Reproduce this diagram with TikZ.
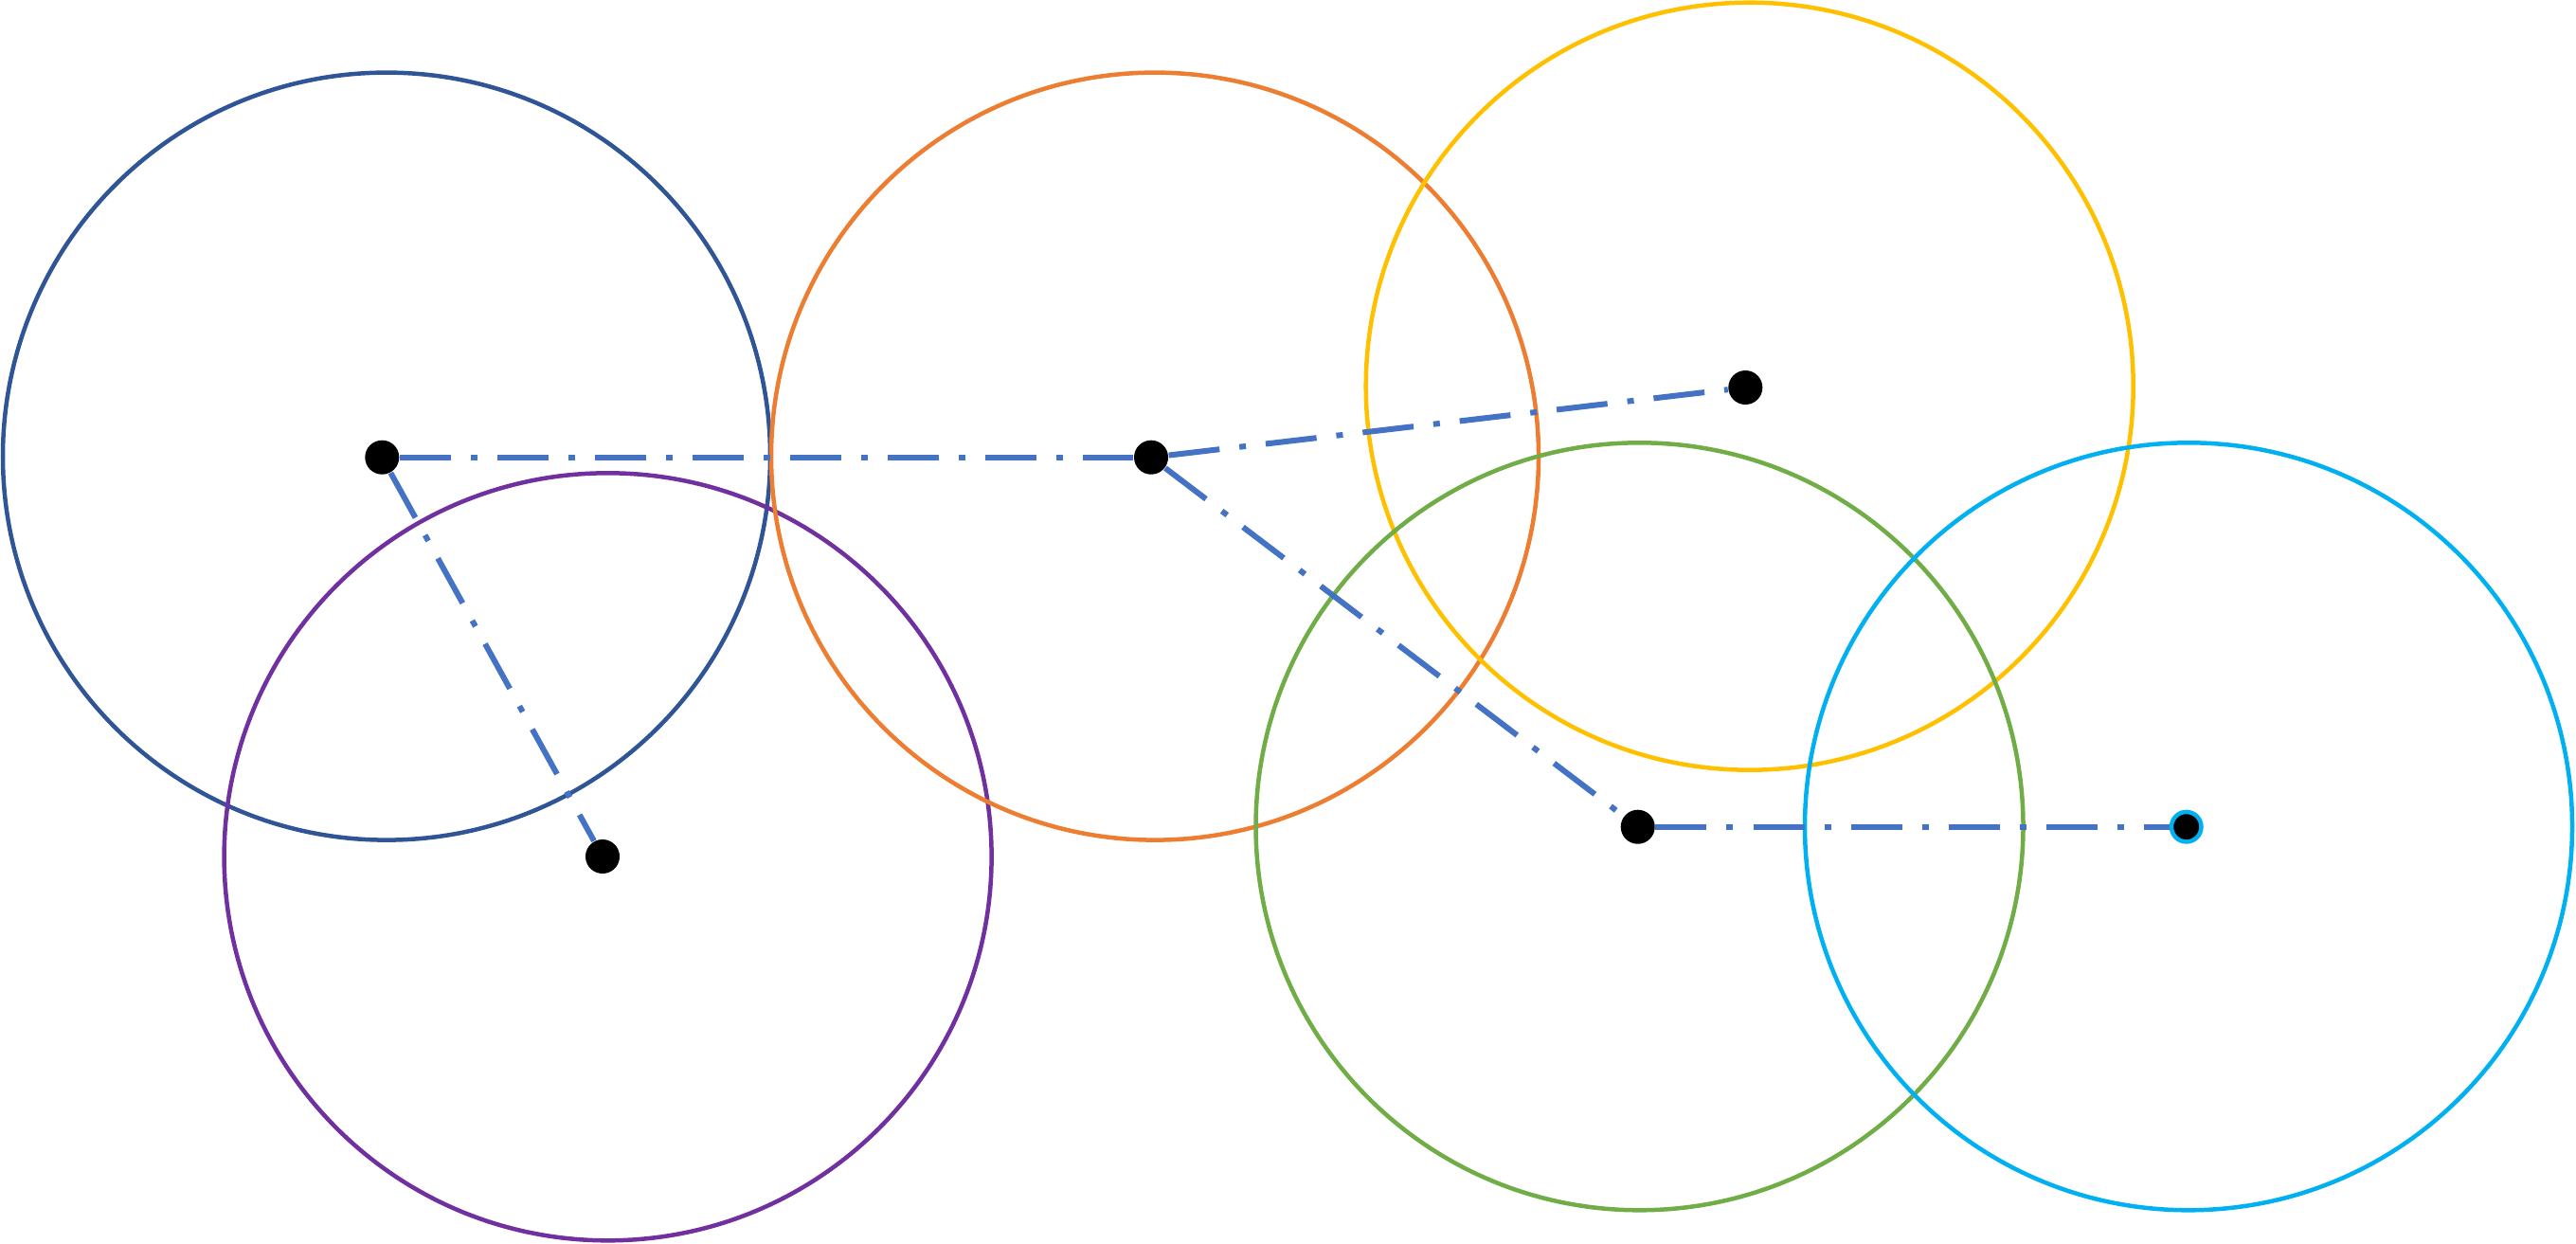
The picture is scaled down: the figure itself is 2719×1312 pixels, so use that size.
\documentclass[tikz,border=0pt]{standalone}
\definecolor{cBlue}{HTML}{2F5597}
\definecolor{cPurple}{HTML}{7030A0}
\definecolor{cOrange}{HTML}{ED7D31}
\definecolor{cYellow}{HTML}{FFC000}
\definecolor{cGreen}{HTML}{70AD47}
\definecolor{cCyan}{HTML}{00B0F0}
\definecolor{cLink}{HTML}{4472C4}
\begin{document}
\begin{tikzpicture}[x=0.01cm,y=-0.01cm,
  coverage/.style={line width=0.045cm},
  sensor/.style={circle,fill=black,inner sep=0pt,minimum size=0.36cm},
  link/.style={cLink,line width=0.06cm,dash pattern=on 0.54cm off 0.21cm on 0.07cm off 0.21cm}]
\useasboundingbox (0,0) rectangle (2719,1312);
% coverage circles
\draw[coverage,cBlue]   (408,481.6) circle[radius=405];
\draw[coverage,cPurple] (641.6,904.3) circle[radius=405];
\draw[coverage,cOrange] (1219,481.6) circle[radius=405];
\draw[coverage,cYellow] (1846.7,407.7) circle[radius=405];
\draw[coverage,cGreen]  (1730.5,872.3) circle[radius=405];
\draw[coverage,cCyan]   (2310,872.3) circle[radius=405];
% sensor nodes
\node[sensor] (a) at (403.3,482.7) {};
\node[sensor] (b) at (636,904) {};
\node[sensor] (c) at (1215,482.7) {};
\node[sensor] (d) at (1842.3,409) {};
\node[sensor] (e) at (1728.7,872.7) {};
\node[sensor,draw=cCyan,line width=0.045cm,minimum size=0.315cm] (f) at (2307.7,872.7) {};
% links
\draw[link] (a) -- (c);
\draw[link] (a) -- (b);
\draw[link] (c) -- (d);
\draw[link] (c) -- (e);
\draw[link] (e) -- (f);
\end{tikzpicture}
\end{document}
